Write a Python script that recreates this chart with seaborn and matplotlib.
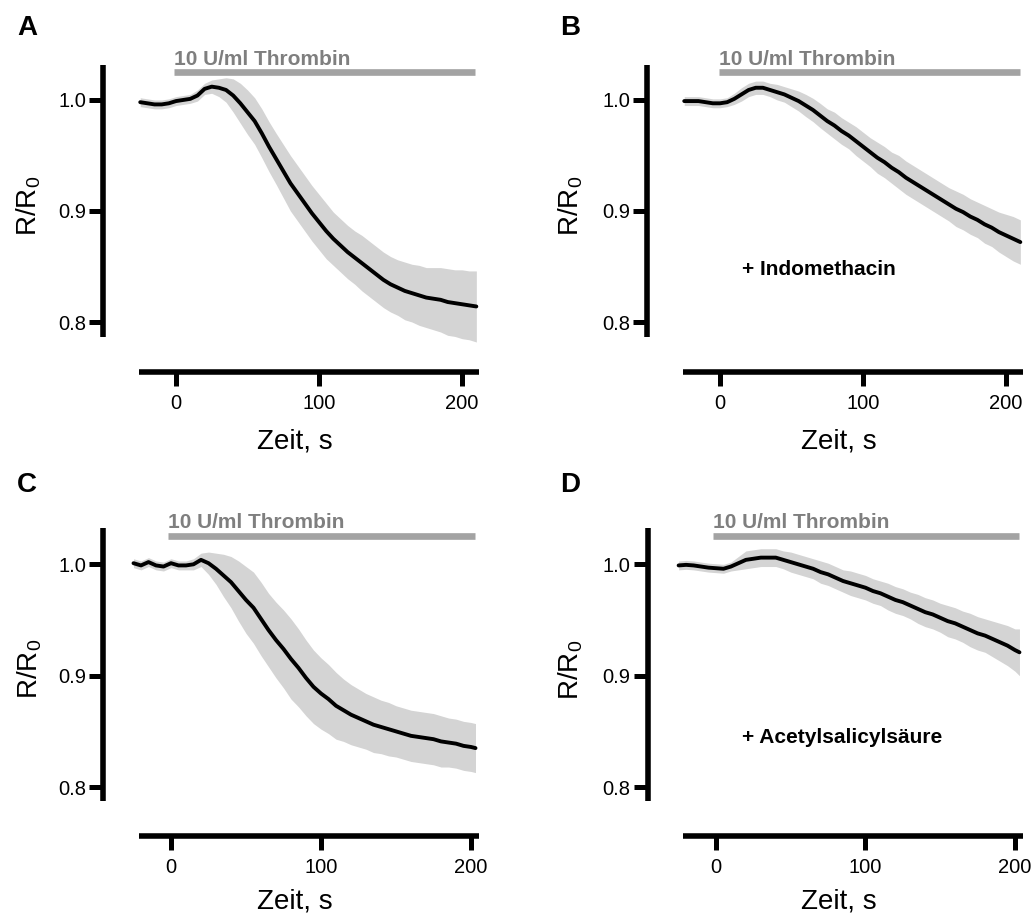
import matplotlib
matplotlib.use("Agg")
import numpy as np
import pandas as pd
import matplotlib.pyplot as plt
import seaborn as sns

# ---------------------------------------------------------------- data
# sampling times (s) of the averaged traces
time_ab = [-25, -20, -15, -10, -5, 0, 5, 10, 15, 20, 25, 30, 35, 40, 45, 50,
           55, 60, 65, 70, 75, 80, 85, 90, 95, 100, 105, 110, 115, 120, 125,
           130, 135, 140, 145, 150, 155, 160, 165, 170, 175, 180, 185, 190,
           195, 200, 205, 210]
time_cd = [-25, -20, -15, -10, -5, 0, 5, 10, 15, 20, 25, 30, 35, 40, 45, 50,
           55, 60, 65, 70, 75, 80, 85, 90, 95, 100, 105, 110, 115, 120, 125,
           130, 135, 140, 145, 150, 155, 160, 165, 170, 175, 180, 185, 190,
           195, 200, 203]

# A: thrombin alone
mean_a = [0.998, 0.997, 0.996, 0.996, 0.997, 0.999, 1.000, 1.001, 1.004, 1.010,
          1.012, 1.011, 1.009, 1.004, 0.997, 0.989, 0.981, 0.970, 0.958, 0.947,
          0.936, 0.925, 0.916, 0.907, 0.898, 0.890, 0.882, 0.875, 0.869, 0.863,
          0.858, 0.853, 0.848, 0.843, 0.838, 0.834, 0.831, 0.828, 0.826, 0.824,
          0.822, 0.821, 0.820, 0.818, 0.817, 0.816, 0.815, 0.814]
sem_a = [0.004, 0.004, 0.004, 0.004, 0.004, 0.004, 0.004, 0.004, 0.005, 0.005,
         0.006, 0.008, 0.011, 0.015, 0.018, 0.020, 0.021, 0.022, 0.0225, 0.023,
         0.024, 0.025, 0.025, 0.025, 0.025, 0.025, 0.025, 0.024, 0.024, 0.024,
         0.024, 0.025, 0.025, 0.025, 0.025, 0.025, 0.025, 0.026, 0.026, 0.027,
         0.027, 0.028, 0.029, 0.030, 0.030, 0.031, 0.031, 0.032]

# B: + Indomethacin
mean_b = [0.999, 0.999, 0.999, 0.998, 0.997, 0.997, 0.998, 1.001, 1.005, 1.009,
          1.011, 1.011, 1.009, 1.007, 1.005, 1.002, 0.999, 0.995, 0.991, 0.986,
          0.981, 0.977, 0.972, 0.968, 0.963, 0.958, 0.953, 0.948, 0.944, 0.939,
          0.935, 0.930, 0.926, 0.922, 0.918, 0.914, 0.910, 0.906, 0.902, 0.899,
          0.895, 0.892, 0.888, 0.885, 0.881, 0.878, 0.875, 0.872]
sem_b = [0.004, 0.004, 0.004, 0.004, 0.004, 0.004, 0.004, 0.005, 0.006, 0.006,
         0.006, 0.006, 0.006, 0.007, 0.007, 0.008, 0.009, 0.010, 0.0105, 0.011,
         0.011, 0.012, 0.012, 0.012, 0.013, 0.013, 0.013, 0.014, 0.014, 0.014,
         0.015, 0.015, 0.015, 0.015, 0.015, 0.015, 0.015, 0.015, 0.016, 0.016,
         0.016, 0.016, 0.017, 0.017, 0.018, 0.019, 0.020, 0.020]

# C: thrombin alone (second series)
mean_c = [1.001, 0.999, 1.002, 0.999, 0.998, 1.001, 0.999, 0.999, 1.000, 1.004,
          1.001, 0.996, 0.990, 0.984, 0.976, 0.968, 0.961, 0.951, 0.941, 0.932,
          0.924, 0.915, 0.907, 0.898, 0.890, 0.884, 0.879, 0.873, 0.869, 0.865,
          0.862, 0.859, 0.856, 0.854, 0.852, 0.850, 0.848, 0.846, 0.845, 0.844,
          0.843, 0.841, 0.840, 0.839, 0.837, 0.836, 0.835]
sem_c = [0.004, 0.004, 0.004, 0.004, 0.004, 0.004, 0.004, 0.004, 0.005, 0.006,
         0.010, 0.014, 0.019, 0.023, 0.027, 0.030, 0.032, 0.033, 0.033, 0.034,
         0.035, 0.036, 0.035, 0.034, 0.033, 0.032, 0.031, 0.030, 0.028, 0.027,
         0.026, 0.025, 0.025, 0.024, 0.024, 0.023, 0.023, 0.023, 0.023, 0.023,
         0.023, 0.023, 0.022, 0.022, 0.022, 0.022, 0.022]

# D: + Acetylsalicylsäure
mean_d = [0.999, 0.9995, 0.999, 0.998, 0.997, 0.9965, 0.996, 0.998, 1.001, 1.004,
          1.005, 1.006, 1.006, 1.006, 1.004, 1.002, 1.000, 0.998, 0.996, 0.993,
          0.991, 0.988, 0.985, 0.983, 0.981, 0.979, 0.976, 0.974, 0.971, 0.968,
          0.966, 0.963, 0.960, 0.957, 0.955, 0.952, 0.949, 0.947, 0.944, 0.941,
          0.938, 0.936, 0.933, 0.930, 0.927, 0.923, 0.921]
sem_d = [0.004, 0.004, 0.004, 0.004, 0.004, 0.004, 0.004, 0.004, 0.006, 0.008,
         0.008, 0.008, 0.008, 0.008, 0.008, 0.009, 0.009, 0.009, 0.009, 0.010,
         0.010, 0.010, 0.010, 0.011, 0.011, 0.011, 0.011, 0.011, 0.012, 0.012,
         0.012, 0.012, 0.013, 0.013, 0.013, 0.013, 0.014, 0.014, 0.014, 0.015,
         0.015, 0.015, 0.016, 0.017, 0.018, 0.019, 0.021]

panel_letters = ["A", "B", "C", "D"]
panel_notes = [None, "+ Indomethacin", None, "+ Acetylsalicylsäure"]
stimulus_label = "10 U/ml Thrombin"
x_ticks = [0, 100, 200]
x_tick_labels = ["0", "100", "200"]
y_ticks = [0.8, 0.9, 1.0]
y_tick_labels = ["0.8", "0.9", "1.0"]
x_label = "Zeit, s"
y_label = r"$\mathregular{R/R_0}$"

# ---------------------------------------------------------------- style
sns.set_theme(style="ticks")
plt.rcParams["font.family"] = ["Liberation Sans", "DejaVu Sans"]
plt.rcParams["mathtext.fontset"] = "custom"
plt.rcParams["mathtext.rm"] = "Liberation Sans"
plt.rcParams["text.color"] = "black"
plt.rcParams["axes.labelcolor"] = "black"
plt.rcParams["xtick.color"] = "black"
plt.rcParams["ytick.color"] = "black"

W, H = 1033, 915
fig = plt.figure(figsize=(W / 100, H / 100), dpi=100)

BAND = "#d4d4d4"
BAR = "#a3a3a3"
BAR_TEXT = "#7f7f7f"
SPINE_LW = 4.0
TICK_FS = 14.5
LABEL_FS = 20
NOTE_FS = 15
LETTER_FS = 20


def add_px_axes(left, top, right, bottom):
    return fig.add_axes([left / W, 1 - bottom / H, (right - left) / W, (bottom - top) / H])


layout = [
    # box (px), xlim, ylim, bar span, bar y, label y, note position,
    # letter position, y-label centre, x-label centre
    dict(box=(138.8, 65, 479.2, 337), xlim=(-26, 212), ylim=(0.7865, 1.0315),
         bar=(-1.2, 209), bar_y=1.0252, lab_y=1.0318, note=None,
         letter=(17, 35), ylab=(29, 206), xlab=(295, 448)),
    dict(box=(682.8, 65, 1023.2, 337), xlim=(-26, 212), ylim=(0.7865, 1.0315),
         bar=(-0.7, 210), bar_y=1.0252, lab_y=1.0318, note=(15.5, 0.8425),
         letter=(560, 35), ylab=(571, 206), xlab=(839, 448)),
    dict(box=(138.75, 528, 479.25, 801), xlim=(-21.5, 205.5), ylim=(0.7875, 1.0326),
         bar=(-2.0, 202.7), bar_y=1.0254, lab_y=1.0322, note=None,
         letter=(17, 492), ylab=(30, 669), xlab=(295, 908)),
    dict(box=(683.1, 528, 1023.2, 801), xlim=(-22, 205.5), ylim=(0.7875, 1.0326),
         bar=(-2.0, 203), bar_y=1.0254, lab_y=1.0322, note=(17.2, 0.840),
         letter=(560, 492), ylab=(571, 670), xlab=(839, 908)),
]

series = [
    (time_ab, mean_a, sem_a),
    (time_ab, mean_b, sem_b),
    (time_cd, mean_c, sem_c),
    (time_cd, mean_d, sem_d),
]

for i, (cfg, (t, m, s)) in enumerate(zip(layout, series)):
    ax = add_px_axes(*cfg["box"])
    t = np.asarray(t, float)
    m = np.asarray(m, float)
    s = np.asarray(s, float)
    df = pd.DataFrame({"Zeit": t, "R": m})

    ax.fill_between(t, m - s, m + s, color=BAND, lw=0, clip_on=False, zorder=1)
    sns.lineplot(data=df, x="Zeit", y="R", ax=ax, color="black", lw=2.8,
                 errorbar=None, zorder=3)
    for ln in ax.lines:
        ln.set_clip_on(False)

    ax.set_xlim(*cfg["xlim"])
    ax.set_ylim(*cfg["ylim"])
    ax.set_xticks(x_ticks)
    ax.set_xticklabels(x_tick_labels)
    ax.set_yticks(y_ticks)
    ax.set_yticklabels(y_tick_labels)
    ax.set_xlabel("")
    ax.set_ylabel("")

    sns.despine(ax=ax)
    for side in ("left", "bottom"):
        ax.spines[side].set_linewidth(SPINE_LW)
        ax.spines[side].set_color("black")
        ax.spines[side].set_capstyle("butt")
    ax.spines["left"].set_position(("outward", 25.5))
    ax.spines["bottom"].set_position(("outward", 25.2))
    ax.tick_params(axis="both", direction="out", length=10, width=3.6,
                   color="black", labelsize=TICK_FS, labelcolor="black")
    ax.tick_params(axis="y", pad=2.5)
    ax.tick_params(axis="x", pad=5.5)
    ax.set_facecolor("none")

    # stimulus bar
    b0, b1 = cfg["bar"]
    ax.plot([b0, b1], [cfg["bar_y"], cfg["bar_y"]], color=BAR, lw=4.8,
            solid_capstyle="butt", clip_on=False, zorder=4)
    ax.text(b0 - 0.3, cfg["lab_y"], stimulus_label, color=BAR_TEXT,
            fontsize=NOTE_FS, fontweight="bold", ha="left", va="baseline",
            clip_on=False)

    note = panel_notes[i]
    if note:
        nx, ny = cfg["note"]
        ax.text(nx, ny, note, fontsize=NOTE_FS, fontweight="bold", color="black",
                ha="left", va="baseline")

    lx, ly = cfg["letter"]
    fig.text(lx / W, 1 - ly / H, panel_letters[i], fontsize=LETTER_FS,
             fontweight="bold", ha="left", va="baseline")
    yx, yy = cfg["ylab"]
    fig.text(yx / W, 1 - yy / H, y_label, fontsize=LABEL_FS, rotation=90,
             ha="center", va="center")
    xx, xy = cfg["xlab"]
    fig.text(xx / W, 1 - xy / H, x_label, fontsize=LABEL_FS,
             ha="center", va="baseline")

fig.savefig("out.png", dpi=100, facecolor="white")
